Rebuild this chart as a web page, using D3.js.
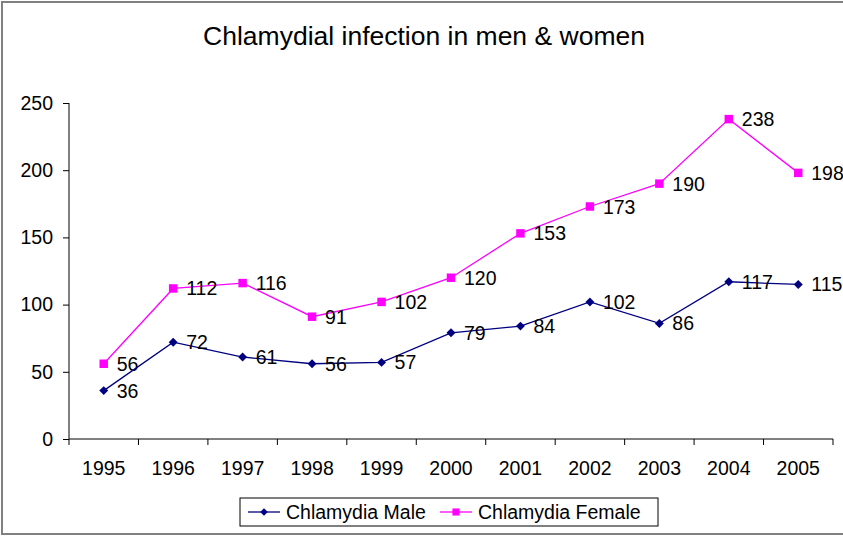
<!DOCTYPE html>
<meta charset="utf-8">
<style>
  body { margin: 0; background: white; }
  text { font-family: "Liberation Sans", Arial, sans-serif; fill: #000; }
  .axis path, .axis line { stroke: #000; }
</style>
<svg width="843" height="536"></svg>
<script src="https://d3js.org/d3.v7.min.js"></script>
<script>

var years = ["1995", "1996", "1997", "1998", "1999", "2000", "2001", "2002", "2003", "2004", "2005"];
var male = [36, 72, 61, 56, 57, 79, 84, 102, 86, 117, 115];
var female = [56, 112, 116, 91, 102, 120, 153, 173, 190, 238, 198];
var yTicks = [0, 50, 100, 150, 200, 250];

var svg = d3.select("svg"),
    margin = {top: 103, right: 10, bottom: 97, left: 69},
    width = 833 - margin.left,
    height = 439 - margin.top;

// outer frame
svg.append("rect")
    .attr("x", 2).attr("y", 2)
    .attr("width", 860).attr("height", 532)
    .attr("fill", "white")
    .attr("stroke", "#808080")
    .attr("stroke-width", 2);

svg.append("text")
    .attr("x", 424)
    .attr("y", 45)
    .attr("text-anchor", "middle")
    .style("font-size", "26.5px")
    .text("Chlamydial infection in men & women");

var x = d3.scaleBand().domain(years).range([0, width]),
    y = d3.scaleLinear().domain([0, 250]).range([height, 0]);

var g = svg.append("g")
    .attr("transform", "translate(" + margin.left + "," + margin.top + ")");

// x axis: ticks between categories
var xAxis = g.append("g")
    .attr("class", "axis")
    .attr("transform", "translate(0," + height + ")");
xAxis.append("line").attr("x1", 0).attr("x2", width).attr("stroke", "#000");
xAxis.selectAll(".tk")
    .data(d3.range(years.length + 1))
  .enter().append("line")
    .attr("x1", function(i) { return i * x.step(); })
    .attr("x2", function(i) { return i * x.step(); })
    .attr("y1", 0).attr("y2", 6)
    .attr("stroke", "#000");
xAxis.selectAll(".lbl")
    .data(years)
  .enter().append("text")
    .attr("x", function(d) { return x(d) + x.bandwidth() / 2; })
    .attr("y", 36)
    .attr("text-anchor", "middle")
    .style("font-size", "19.5px")
    .text(function(d) { return d; });

var yAxis = g.append("g")
    .attr("class", "axis")
    .call(d3.axisLeft(y).tickValues(yTicks).tickSize(6).tickPadding(10));
yAxis.select(".domain").attr("d", "M0," + height + "V0");
yAxis.selectAll("text").style("font-size", "19.5px").style("font-family", "Liberation Sans, Arial, sans-serif");

var line = d3.line()
    .x(function(d, i) { return x(years[i]) + x.bandwidth() / 2; })
    .y(function(d) { return y(d); });

function marker(sel, shape, color, scale) {
  if (shape === "diamond") {
    sel.attr("d", d3.symbol().type(d3.symbolSquare).size(40 * scale))
       .attr("transform", function() { return d3.select(this).attr("transform") + " rotate(45)"; });
  } else {
    sel.attr("d", d3.symbol().type(d3.symbolSquare).size(72 * scale));
  }
  sel.attr("fill", color);
}

function series(data, color, shape) {
  g.append("path")
      .datum(data)
      .attr("fill", "none")
      .attr("stroke", color)
      .attr("stroke-width", 1.3)
      .attr("d", line);
  g.selectAll(null)
      .data(data)
    .enter().append("path")
      .attr("transform", function(d, i) {
        return "translate(" + (x(years[i]) + x.bandwidth() / 2) + "," + y(d) + ")";
      })
      .call(marker, shape, color, 1);
  g.selectAll(null)
      .data(data)
    .enter().append("text")
      .attr("x", function(d, i) { return x(years[i]) + x.bandwidth() / 2 + 13; })
      .attr("y", function(d) { return y(d); })
      .attr("dy", "0.36em")
      .style("font-size", "19.5px")
      .text(function(d) { return d; });
}

series(female, "#ff00ff", "square");
series(male, "#000080", "diamond");

// legend
var legend = svg.append("g").attr("transform", "translate(240,498)");
legend.append("rect")
    .attr("width", 418).attr("height", 28)
    .attr("fill", "white").attr("stroke", "#000");
var items = [{name: "Chlamydia Male", color: "#000080", shape: "diamond"},
             {name: "Chlamydia Female", color: "#ff00ff", shape: "square"}];
var lx = [8, 200];
items.forEach(function(it, i) {
  var li = legend.append("g").attr("transform", "translate(" + lx[i] + ",14)");
  li.append("line").attr("x1", 0).attr("x2", 32).attr("stroke", it.color).attr("stroke-width", 1.3);
  li.append("path").attr("transform", "translate(16,0)")
      .call(marker, it.shape, it.color, 0.7);
  li.append("text").attr("x", 38).attr("dy", "0.36em").style("font-size", "19.5px").text(it.name);
});

</script>
